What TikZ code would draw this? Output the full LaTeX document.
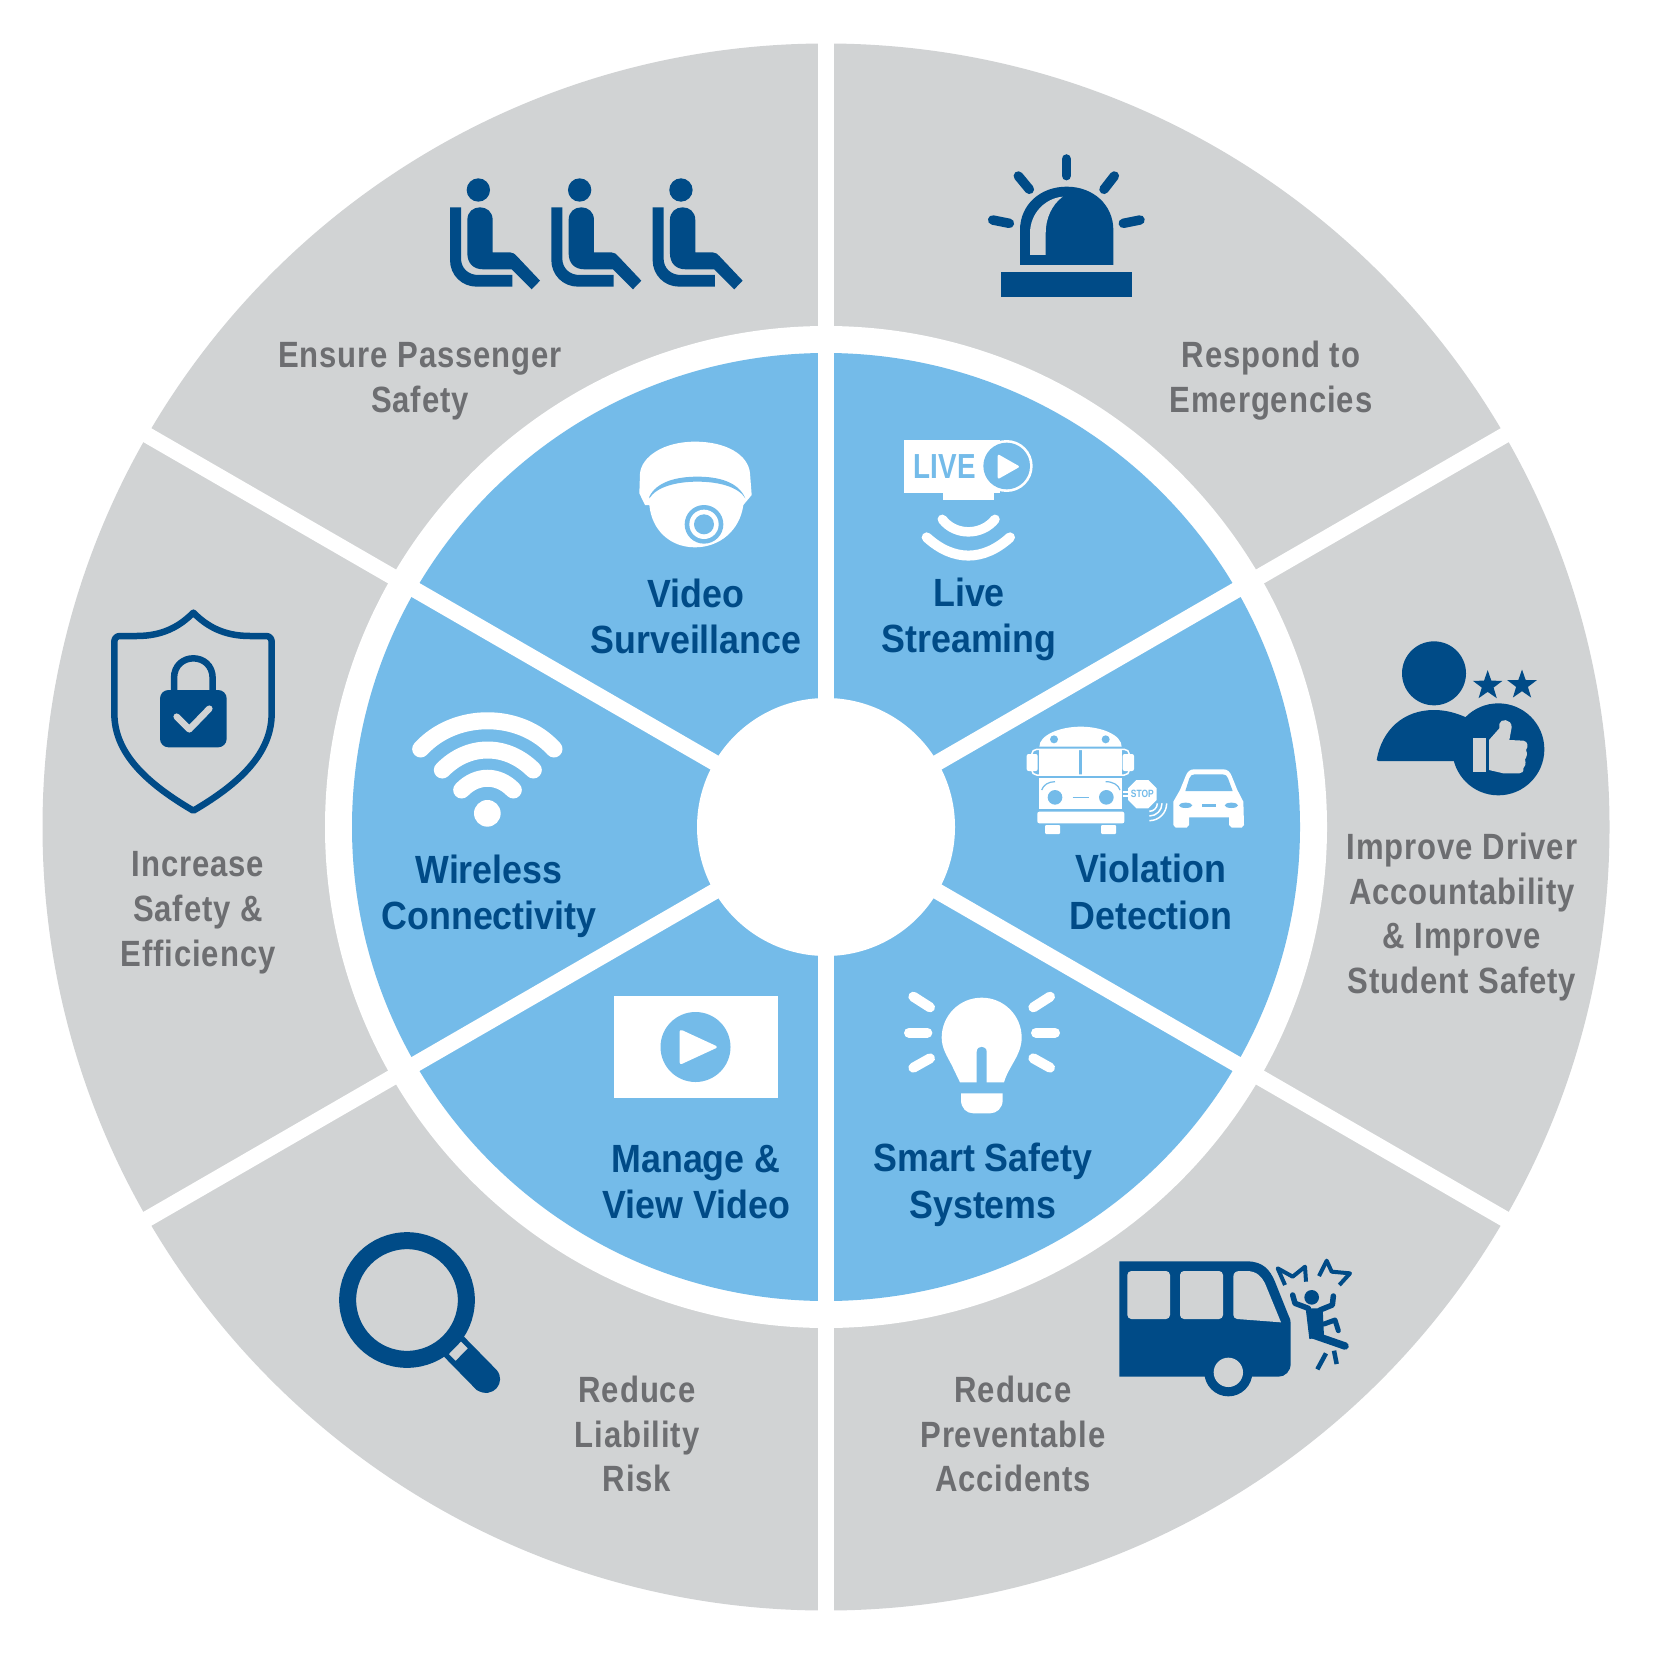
\documentclass[tikz,border=0pt]{standalone}
\usepackage{fontspec}
\setmainfont{Liberation Sans}[FakeStretch=0.91]
\newfontfamily\ringfont{Liberation Sans}[FakeStretch=0.85,LetterSpace=2.5]
\newfontfamily\tagfont{Liberation Sans}[FakeStretch=0.8]
\usetikzlibrary{shapes.geometric}
\definecolor{navy}{HTML}{004B87}
\definecolor{sky}{HTML}{74BBE9}
\definecolor{ash}{HTML}{D1D3D4}
\definecolor{slate}{HTML}{6D6E71}
\tikzset{icon/.style={shift={(#1)},scale=1/3}}
\newcommand{\seat}[1]{
	\begin{scope}[icon={#1,160}]
	\fill[navy] (145,90) circle[radius=35];
	\fill[navy] (112,180) .. controls (112,155) and (130,142) .. (150,142) .. controls (170,142) and (188,155) .. (188,180) -- (188,277) -- (240,277) .. controls (250,277) and (255,283) .. (260,288) -- (330,362) -- (305,388) -- (245,328) -- (160,328) .. controls (130,328) and (112,310) .. (112,280) -- cycle;
	\fill[navy] (60,142) -- (93,142) -- (93,295) .. controls (93,325) and (115,345) .. (145,345) -- (247,345) -- (247,380) -- (140,380) .. controls (95,380) and (60,345) .. (60,300) -- cycle;
	\end{scope}
}

\begin{document}
\begin{tikzpicture}[x=0.1mm,y=-0.1mm,
	spoke/.style={white, line width=1.6mm},
	bluetext/.style={navy, align=center, font=\fontsize{11.2}{13.2}\selectfont\bfseries},
	greytext/.style={slate, align=center, font=\fontsize{10.4}{12.75}\selectfont\ringfont\bfseries},
	ray/.style={line width=#1, line cap=round},
	starmark/.style={star, star points=5, star point ratio=2.5, fill=navy, minimum size=3.1mm, inner sep=0pt}]
	\useasboundingbox (0,0) rectangle (1659,1653);
	\coordinate (hub) at (826,827);

	\fill[ash] (hub) circle[radius=783.5];
	\draw[spoke] (hub) -- ++(90:800);
	\draw[spoke] (hub) -- ++(30:800);
	\draw[spoke] (hub) -- ++(-30:800);
	\draw[spoke] (hub) -- ++(-90:800);
	\draw[spoke] (hub) -- ++(-150:800);
	\draw[spoke] (hub) -- ++(150:800);
	\fill[white] (hub) circle[radius=501];
	\fill[sky] (hub) circle[radius=474];
	\draw[spoke] (hub) -- ++(90:480);
	\draw[spoke] (hub) -- ++(30:480);
	\draw[spoke] (hub) -- ++(-30:480);
	\draw[spoke] (hub) -- ++(-90:480);
	\draw[spoke] (hub) -- ++(-150:480);
	\draw[spoke] (hub) -- ++(150:480);
	\fill[white] (hub) circle[radius=129];

	\node[bluetext] at (696,616.5) (video) {Video\\Surveillance};
	\node[bluetext] at (969,619.5) (live) {Live\\Streaming};
	\node[bluetext] at (489,896.5) (wireless) {Wireless\\Connectivity};
	\node[bluetext] at (1151,892) (violation) {Violation\\Detection};
	\node[bluetext] at (696,1182) (manage) {Manage \&\\View Video};
	\node[bluetext] at (983,1185) (smart) {Smart Safety\\Systems};
	\node[greytext] at (420,381) (passenger) {Ensure Passenger\\Safety};
	\node[greytext] at (1271,381) (respond) {Respond to\\Emergencies};
	\node[greytext] at (1462,917) (driver) {Improve Driver\\Accountability\\\& Improve\\Student Safety};
	\node[greytext] at (198,913) (increase) {Increase\\Safety \&\\Efficiency};
	\node[greytext] at (637,1434) (liability) {Reduce\\Liability\\Risk};
	\node[greytext] at (1013,1434) (accidents) {Reduce\\Preventable\\Accidents};

	\seat{430}
	\seat{531.3}
	\seat{632.6}

	\begin{scope}[icon={980,140}]
	\fill[navy] (120,375) -- (120,270) .. controls (120,195) and (180,140) .. (260,140) .. controls (340,140) and (400,195) .. (400,270) -- (400,375) -- cycle;
	\fill[ash] (150,345) -- (150,280) .. controls (150,220) and (195,175) .. (248,170) .. controls (215,195) and (197,235) .. (197,280) -- (197,345) -- cycle;
	\fill[navy] (64,397) rectangle (455,470);
	\draw[navy, ray=0.95mm] (259,57) -- (259,107);
	\draw[navy, ray=0.95mm] (115,108) -- (148,148);
	\draw[navy, ray=0.95mm] (403,108) -- (372,148);
	\draw[navy, ray=0.95mm] (38,240) -- (88,250);
	\draw[navy, ray=0.95mm] (480,240) -- (430,250);
	\end{scope}

	\begin{scope}[icon={1360,620}]
	\fill[navy] (222,160) circle[radius=96];
	\fill[navy] (50,420) .. controls (65,330) and (130,270) .. (222,270) .. controls (260,270) and (290,280) .. (318,292) -- (340,440) -- (285,423) -- (55,423) -- cycle;
	\fill[navy] (415,388) circle[radius=138];
	\fill[ash] (338,355) rectangle (377,457);
	\fill[ash] (387,360) -- (418,325) -- (418,312) .. controls (420,295) and (455,295) .. (455,322) -- (448,360) -- (490,362) .. controls (505,365) and (505,380) .. (498,390) .. controls (503,400) and (500,412) .. (495,418) .. controls (498,430) and (497,440) .. (490,445) .. controls (492,455) and (485,460) .. (478,460) -- (430,460) -- (387,450) -- cycle;
	\node[starmark] at (383,197) (starleft) {};
	\node[starmark] at (486,195) (starright) {};
	\end{scope}

	\begin{scope}[icon={100,600}]
	\draw[navy, line width=0.65mm, line join=round] (280,38) .. controls (240,78) and (190,108) .. (110,108) -- (60,108) .. controls (50,108) and (43,115) .. (43,125) -- (43,340) .. controls (43,460) and (140,550) .. (280,632) .. controls (420,550) and (515,460) .. (515,340) -- (515,125) .. controls (515,115) and (508,108) .. (498,108) -- (450,108) .. controls (370,108) and (320,78) .. (280,38) -- cycle;
	\fill[navy, rounded corners=0.85mm] (180,270) rectangle (380,442);
	\draw[navy, line width=0.65mm] (222,275) -- (222,235) .. controls (222,155) and (338,155) .. (338,235) -- (338,275);
	\draw[ash, ray=0.65mm, line join=round] (230,350) -- (268,388) -- (328,326);
	\end{scope}

	\begin{scope}[icon={1100,1240}]
	\fill[navy] (58,64) -- (440,64) .. controls (490,64) and (510,90) .. (525,125) -- (565,225) .. controls (570,235) and (572,240) .. (572,250) -- (572,370) .. controls (572,395) and (555,410) .. (535,410) -- (58,410) -- cycle;
	\fill[navy] (385,397) circle[radius=72];
	\fill[ash] (385,397) circle[radius=44];
	\fill[ash, rounded corners=0.4mm] (82,93) rectangle (210,237);
	\fill[ash, rounded corners=0.4mm] (240,93) rectangle (369,237);
	\fill[ash] (400,110) .. controls (400,98) and (408,93) .. (420,93) -- (440,93) .. controls (470,93) and (485,110) .. (495,130) -- (543,247) -- (412,237) .. controls (405,236) and (400,232) .. (400,225) -- cycle;
	\fill[navy] (635,172) circle[radius=22];
	\fill[navy] (617,205) -- (668,205) -- (672,290) -- (628,297) -- cycle;
	\draw[navy, ray=0.55mm, line join=round] (578,165) -- (585,190) -- (625,205);
	\draw[navy, ray=0.55mm, line join=round] (700,168) -- (697,195) -- (660,210);
	\draw[navy, ray=0.75mm] (640,285) -- (735,318);
	\draw[navy, ray=0.5mm, line join=round] (672,252) -- (705,240) -- (715,272);
	\draw[navy, line width=0.4mm, line join=round] (555,135) -- (533,85) -- (578,110) -- (615,80) -- (618,125);
	\draw[navy, line width=0.4mm, line join=round] (657,108) -- (680,62) -- (695,95) -- (750,100) -- (718,135);
	\draw[navy, line width=0.45mm] (678,340) -- (652,388);
	\draw[navy, line width=0.45mm] (702,332) -- (710,372);
	\end{scope}

	\begin{scope}[icon={330,1220}]
	\draw[navy, line width=1.7mm] (231,240) circle[radius=178];
	\fill[navy] (342,410) -- (402,350) -- (500,450) .. controls (530,485) and (490,540) .. (440,510) -- cycle;
	\fill[ash] (357,402) -- (393,365) -- (413,385) -- (377,422) -- cycle;
	\end{scope}

	\begin{scope}[icon={620,430}]
	\fill[white] (75,225) -- (58,190) -- (60,130) .. controls (65,80) and (130,35) .. (225,35) .. controls (320,35) and (385,75) .. (390,130) -- (395,195) -- (370,225) .. controls (360,300) and (300,352) .. (225,352) .. controls (150,352) and (95,300) .. (88,225) -- cycle;
	\fill[sky] (88,200) .. controls (110,155) and (170,140) .. (232,140) .. controls (295,140) and (355,155) .. (376,205) .. controls (355,170) and (295,155) .. (232,155) .. controls (170,155) and (110,170) .. (88,205) -- cycle;
	\fill[sky] (252,283) circle[radius=58];
	\fill[white] (252,283) circle[radius=44];
	\fill[sky] (252,283) circle[radius=30];
	\end{scope}

	\begin{scope}[icon={900,430}]
	\fill[white] (12,30) rectangle (300,188);
	\fill[white] (128,188) rectangle (282,210);
	\fill[white] (320,108) circle[radius=78];
	\fill[sky] (320,108) circle[radius=70];
	\fill[white, rounded corners=0.2mm] (293,72) -- (360,110) -- (293,148) -- cycle;
	\node[sky, font=\fontsize{9.9}{12}\selectfont\tagfont\bfseries] at (134,109) (livetag) {LIVE};
	\draw[white, ray=0.95mm] (127,268) .. controls (165,318) and (245,318) .. (285,268);
	\draw[white, ray=1mm] (80,322) .. controls (160,395) and (250,395) .. (330,322);
	\end{scope}

	\begin{scope}[icon={405,700}]
	\draw[white, ray=1.7mm] (47,147) .. controls (150,34) and (345,34) .. (447,147);
	\draw[white, ray=1.7mm] (112,210) .. controls (190,130) and (305,130) .. (385,210);
	\draw[white, ray=1.7mm] (170,270) .. controls (215,223) and (280,223) .. (325,270);
	\fill[white] (247,340) circle[radius=40];
	\end{scope}

	\begin{scope}[icon={890,980}]
	\fill[white] (275,53) .. controls (208,53) and (155,107) .. (155,173) .. controls (155,205) and (172,230) .. (185,255) -- (210,307) -- (260,307) -- (260,215) .. controls (260,195) and (290,195) .. (290,215) -- (290,307) -- (342,307) .. controls (355,260) and (395,225) .. (395,173) .. controls (395,107) and (342,53) .. (275,53);
	\fill[white] (213,340) -- (338,340) -- (338,360) .. controls (338,385) and (320,400) .. (300,400) -- (250,400) .. controls (230,400) and (213,385) .. (213,360) -- cycle;
	\draw[white, ray=1mm] (70,50) -- (120,82);
	\draw[white, ray=1mm] (480,50) -- (430,82);
	\draw[white, ray=1mm] (57,158) -- (112,158);
	\draw[white, ray=1mm] (438,158) -- (495,158);
	\draw[white, ray=1mm] (70,263) -- (120,235);
	\draw[white, ray=1mm] (480,263) -- (430,235);
	\end{scope}

	\fill[white] (613.5,996) rectangle (777.5,1098);
	\fill[sky] (695.5,1047) circle[radius=35];
	\fill[white, rounded corners=0.3mm] (679.5,1029) -- (718.5,1047) -- (679.5,1065) -- cycle;

	\begin{scope}[icon={1010,710}]
	\fill[white] (88,110) .. controls (88,75) and (150,50) .. (212,50) .. controls (275,50) and (335,75) .. (335,110) -- cycle;
	\fill[sky] (132,88) circle[radius=12];
	\fill[sky] (287,88) circle[radius=12];
	\draw[white, line width=0.15mm, rounded corners=0.5mm] (65,118) rectangle (358,195);
	\fill[white] (87,120) rectangle (208,195);
	\fill[white] (216,120) rectangle (335,195);
	\fill[white, rounded corners=0.2mm] (50,132) rectangle (83,183);
	\fill[white, rounded corners=0.2mm] (338,132) rectangle (372,183);
	\fill[white] (88,205) rectangle (335,298);
	\fill[sky] (135,262) circle[radius=22];
	\fill[sky] (289,262) circle[radius=22];
	\draw[sky, line width=0.15mm] (188,262) -- (238,262);
	\draw[sky, line width=0.12mm] (95,240) .. controls (100,225) and (115,215) .. (135,215);
	\draw[sky, line width=0.12mm] (330,240) .. controls (325,225) and (310,215) .. (287,215);
	\fill[white, rounded corners=0.2mm] (82,305) rectangle (343,340);
	\fill[white, rounded corners=0.1mm] (105,345) rectangle (150,372);
	\fill[white, rounded corners=0.1mm] (273,345) rectangle (318,372);
	\draw[white, line width=0.15mm] (338,246) -- (358,246);
	\draw[white, line width=0.15mm] (338,258) -- (358,258);
	\fill[white] (379,210) -- (415,210) -- (440,235) -- (440,270) -- (415,295) -- (379,295) -- (354,270) -- (354,235) -- cycle;
	\node[sky, font=\fontsize{3}{4}\selectfont\tagfont\bfseries] at (397,253) (stoptag) {STOP};
	\draw[white, line width=0.15mm] (442,280) arc[start angle=0, end angle=90, radius=24];
	\draw[white, line width=0.15mm] (456,280) arc[start angle=0, end angle=90, radius=38];
	\draw[white, line width=0.15mm] (470,280) arc[start angle=0, end angle=90, radius=52];
	\fill[white] (490,345) -- (490,275) -- (510,240) -- (527,198) .. controls (532,185) and (540,178) .. (552,178) -- (640,178) .. controls (652,178) and (660,185) .. (665,198) -- (682,240) -- (700,275) -- (702,345) -- (695,353) -- (665,353) -- (657,345) -- (657,322) -- (537,322) -- (537,345) -- (530,353) -- (497,353) -- cycle;
	\fill[sky] (526,243) -- (538,205) .. controls (541,197) and (546,193) .. (554,193) -- (638,193) .. controls (646,193) and (651,197) .. (654,205) -- (668,243) -- cycle;
	\fill[sky] (527,286) ellipse[x radius=20, y radius=8];
	\fill[sky] (664,286) ellipse[x radius=20, y radius=8];
	\draw[sky, line width=0.25mm] (577,286) -- (617,286);
	\end{scope}
\end{tikzpicture}
\end{document}
